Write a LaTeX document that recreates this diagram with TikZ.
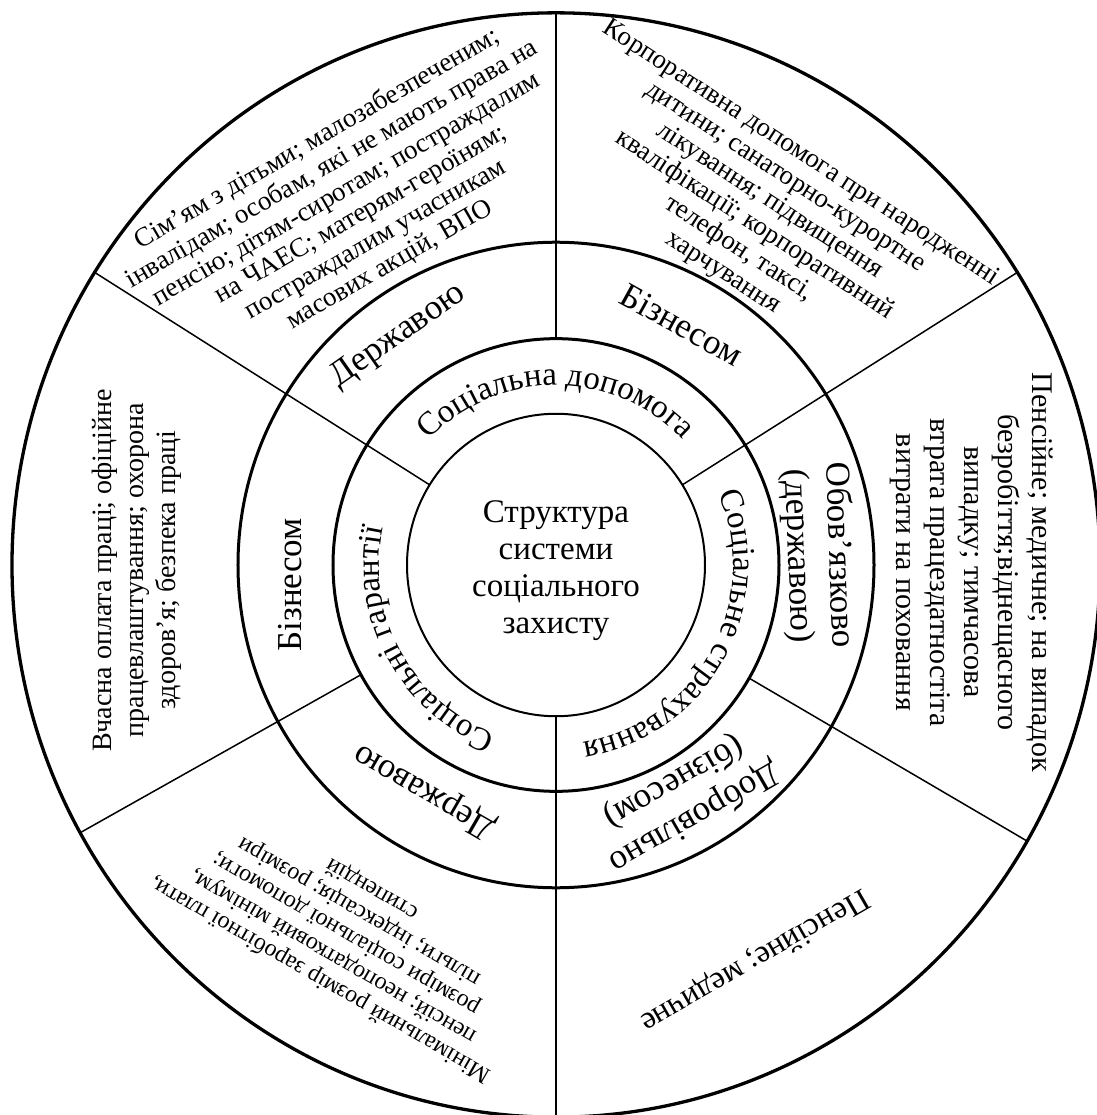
\documentclass[tikz,border=0pt]{standalone}
\usepackage{fontspec}
\setmainfont{Liberation Serif}
\usetikzlibrary{decorations.text}

\newcommand{\sizefont}[2]{\fontsize{#1}{#2}\selectfont}

\begin{document}
\begin{tikzpicture}[x=1pt,y=1.015pt,
		ring/.style={line width=#1},
		spoke/.style={line width=1.5pt},
		hubtext/.style={align=center,inner sep=0pt,font=\sizefont{33}{37}},
		bandtext/.style={align=center,inner sep=0pt,font=\sizefont{35}{41}},
		rimtext/.style={align=center,inner sep=0pt}]
		\useasboundingbox (-556,-541.87) rectangle (540,556.65);
		
		%Straight Lines: spokes
		\foreach \a/\r in {32/149,148/149,270/149,90/223,209/223,330/223}
			\draw[spoke] (\a:\r) -- (\a:544);
		
		%Shape: Circle
		\draw[ring=2pt] (0,0) circle (149);
		\draw[ring=3pt] (0,0) circle (223);
		\draw[ring=3pt] (0,0) circle (318);
		\draw[ring=3.3pt] (0,0) circle (544);
		
		% Text Node
		\node[hubtext] (hub) at (0,-6) {Структура\\системи\\соціального\\захисту};
		
		% Text on arcs
		\path[decorate,decoration={text along path,text align=center,
			text={|\sizefont{33}{33}|Соціальна допомога}}]
			(150:177) arc[start angle=150,end angle=30,radius=177];
		\path[decorate,decoration={text along path,text align=center,
			text={|\sizefont{33}{33}|Соціальне страхування}}]
			(31:177) arc[start angle=31,end angle=-89,radius=177];
		\path[decorate,decoration={text along path,text align=center,
			text={|\sizefont{33}{33}|Соціальні гарантії}}]
			(269:177) arc[start angle=269,end angle=149,radius=177];
		
		% Text Node
		\node[bandtext,rotate=35] (statehelp) at (125:275) {Державою};
		% Text Node
		\node[bandtext,rotate=-29] (bizhelp) at (62:268) {Бізнесом};
		% Text Node
		\node[bandtext,rotate=-88] (mandatory) at (2:262) {Обов'язково\\(державою)};
		% Text Node
		\node[bandtext,rotate=210] (voluntary) at (299:264) {Добровільно\\(бізнесом)};
		% Text Node
		\node[bandtext,rotate=90] (bizguar) at (184.2:267) {Бізнесом};
		% Text Node
		\node[bandtext,rotate=150] (stateguar) at (239.5:258) {Державою};
		
		% Text Node
		\node[rimtext,rotate=30,font=\sizefont{27}{29}] (statehelplist) at (119.5:411) {Сім'ям з дітьми; малозабезпеченим;\\інвалідам; особам, які не мають права на\\пенсію; дітям-сиротам; постраждалим\\на ЧАЕС; матерям-героїням;\\постраждалим учасникам\\масових акцій, ВПО};
		% Text Node
		\node[rimtext,rotate=-33,font=\sizefont{27}{28.5}] (bizhelplist) at (59.3:403) {Корпоративна допомога при народженні\\дитини; санаторно-курортне\\лікування; підвищення\\кваліфікації; корпоративний\\телефон, таксі,\\харчування};
		% Text Node
		\node[rimtext,rotate=-90,font=\sizefont{30}{34}] (mandatorylist) at (-1:416) {Пенсійне; медичне; на випадок\\безробіття;віднещасного\\випадку; тимчасова\\втрата працездатностіта\\витрати на поховання};
		% Text Node
		\node[rimtext,rotate=90,font=\sizefont{28}{32}] (bizguarlist) at (180.7:419) {Вчасна оплата праці; офіційне\\працевлаштування; охорона\\здоров'я; безпека праці};
		% Text Node
		\node[rimtext,rotate=150,font=\sizefont{24}{26}] (stateguarlist) at (240:420) {Мінімальний розмір заробітної плати,\\пенсій; неоподатковий мінімум,\\розміри соціальної допомоги;\\пільги; індексація; розміри\\стипендій};
		% Text Node
		\node[rimtext,rotate=210,font=\sizefont{32}{36}] (voluntarylist) at (297:437) {Пенсійне; медичне};
		
\end{tikzpicture}
\end{document}
